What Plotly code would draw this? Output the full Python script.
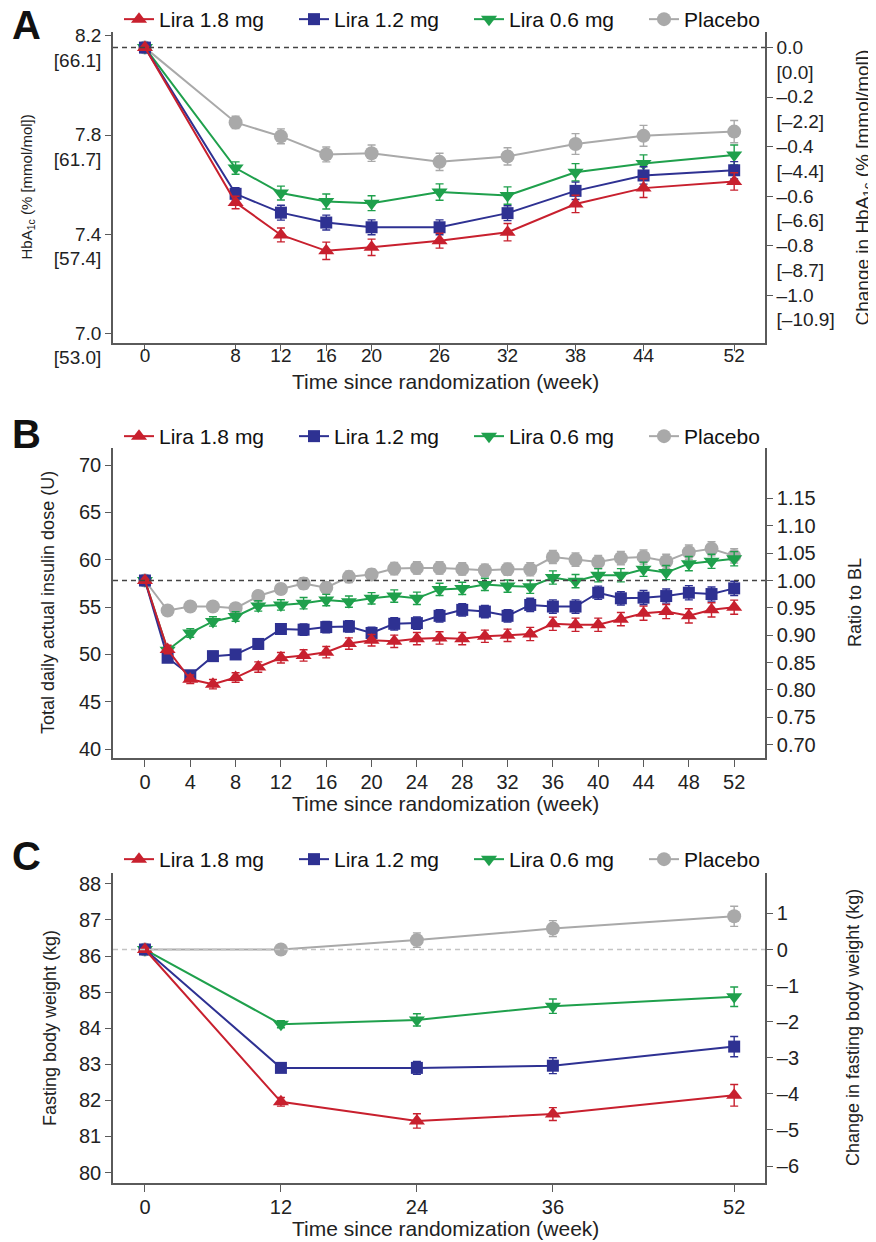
import plotly.graph_objects as go

# ---------------- Panel A: HbA1c ----------------
weeks_a = [0, 8, 12, 16, 20, 26, 32, 38, 44, 52]
hba1c_baseline = 8.153
hba1c_lira18 = [8.153, 7.528, 7.397, 7.333, 7.347, 7.374, 7.408, 7.522, 7.586, 7.613]
hba1c_lira12 = [8.153, 7.563, 7.487, 7.447, 7.428, 7.428, 7.485, 7.575, 7.637, 7.658]
hba1c_lira06 = [8.153, 7.667, 7.566, 7.532, 7.525, 7.570, 7.556, 7.650, 7.685, 7.720]
hba1c_placebo = [8.153, 7.851, 7.795, 7.722, 7.727, 7.692, 7.714, 7.764, 7.797, 7.814]
hba1c_err18 = [0, 0.025, 0.028, 0.035, 0.033, 0.030, 0.035, 0.035, 0.038, 0.035]
hba1c_err12 = [0, 0.025, 0.030, 0.030, 0.030, 0.030, 0.030, 0.035, 0.035, 0.035]
hba1c_err06 = [0, 0.025, 0.028, 0.030, 0.030, 0.033, 0.035, 0.035, 0.035, 0.040]
hba1c_errpl = [0, 0.025, 0.030, 0.030, 0.033, 0.035, 0.035, 0.042, 0.042, 0.045]
a_left_ticks = [8.2, 7.8, 7.4, 7.0]
a_left_text = ["8.2<br>[66.1]", "7.8<br>[61.7]", "7.4<br>[57.4]", "7.0<br>[53.0]"]
a_right_ticks = [0.0, -0.2, -0.4, -0.6, -0.8, -1.0]
a_right_text = ["0.0<br>[0.0]", "–0.2<br>[–2.2]", "–0.4<br>[–4.4]",
                "–0.6<br>[–6.6]", "–0.8<br>[–8.7]", "–1.0<br>[–10.9]"]

# ---------------- Panel B: insulin dose ----------------
weeks_b = list(range(0, 54, 2))
ins_baseline = 57.8
ins_lira18 = [57.8, 50.51, 47.37, 46.85, 47.55, 48.66, 49.64, 49.88, 50.23, 51.14, 51.49,
              51.38, 51.66, 51.73, 51.66, 51.91, 52.01, 52.15, 53.23, 53.13, 53.13, 53.72,
              54.35, 54.52, 54.07, 54.70, 54.98]
ins_lira12 = [57.8, 49.64, 47.79, 49.81, 49.99, 51.10, 52.68, 52.61, 52.88, 52.95, 52.26,
              53.23, 53.30, 54.07, 54.70, 54.52, 54.07, 55.22, 55.05, 55.05, 56.51, 55.92,
              55.99, 56.16, 56.51, 56.37, 56.97]
ins_lira06 = [57.8, 50.44, 52.26, 53.48, 54.00, 55.12, 55.22, 55.40, 55.74, 55.57, 55.92,
              56.16, 55.92, 56.86, 56.97, 57.39, 57.21, 57.14, 58.12, 57.73, 58.36, 58.36,
              58.99, 58.64, 59.58, 59.83, 60.10]
ins_placebo = [57.8, 54.63, 55.05, 55.05, 54.87, 56.16, 56.90, 57.49, 57.04, 58.19, 58.43,
               59.06, 59.13, 59.13, 59.02, 58.88, 58.99, 58.99, 60.28, 60.00, 59.76, 60.17,
               60.28, 59.83, 60.80, 61.15, 60.40]
ins_err = [0, 0.45, 0.45, 0.5, 0.5, 0.55, 0.55, 0.6, 0.6, 0.6, 0.6, 0.65, 0.65, 0.65, 0.65,
           0.65, 0.65, 0.7, 0.7, 0.7, 0.7, 0.7, 0.75, 0.75, 0.75, 0.75, 0.75]
b_left_ticks = [40, 45, 50, 55, 60, 65, 70]
b_right_ticks = [0.70, 0.75, 0.80, 0.85, 0.90, 0.95, 1.00, 1.05, 1.10, 1.15]

# ---------------- Panel C: body weight ----------------
weeks_c = [0, 12, 24, 36, 52]
wt_baseline = 86.18
wt_lira18 = [86.18, 81.96, 81.43, 81.62, 82.14]
wt_lira12 = [86.18, 82.90, 82.90, 82.96, 83.49]
wt_lira06 = [86.18, 84.11, 84.23, 84.61, 84.87]
wt_placebo = [86.18, 86.18, 86.44, 86.76, 87.10]
wt_err18 = [0, 0.12, 0.2, 0.18, 0.3]
wt_err12 = [0, 0.12, 0.18, 0.22, 0.28]
wt_err06 = [0, 0.1, 0.17, 0.2, 0.27]
wt_errpl = [0, 0.1, 0.2, 0.22, 0.28]
c_left_ticks = [80, 81, 82, 83, 84, 85, 86, 87, 88]
c_right_ticks = [-6, -5, -4, -3, -2, -1, 0, 1]

series_names = ["Lira 1.8 mg", "Lira 1.2 mg", "Lira 0.6 mg", "Placebo"]
colors = ["#C8202E", "#2E3192", "#1FA04C", "#A9A9A9"]
symbols = ["triangle-up", "square", "triangle-down", "circle"]
msizes = [14, 12, 14, 14]

FONT = "Liberation Sans, Arial, Helvetica, sans-serif"
AXC = "#5a5a5a"

# the page body has an 8px margin: lay the figure out in page pixels
OX, OY = 8, 8
W, H = 868, 1234


def fx(px):
    return (px - OX) / W


def fy(py):
    return 1 - (py - OY) / H


fig = go.Figure()


def add_panel(weeks, ys, errs, xa, ya, legend):
    # placebo drawn first, Lira 1.8 mg last (on top)
    for i in [3, 2, 1, 0]:
        fig.add_trace(go.Scatter(
            x=weeks, y=ys[i], name=series_names[i], mode="lines+markers",
            line=dict(color=colors[i], width=2),
            marker=dict(symbol=symbols[i], size=msizes[i], color=colors[i]),
            error_y=dict(type="data", array=errs[i], color=colors[i], thickness=1.4, width=4),
            xaxis=xa, yaxis=ya, legend=legend, showlegend=True))


XR = [-2.82, 54.72]


def add_ref(val, xa, ya, color):
    fig.add_trace(go.Scatter(
        x=XR, y=[val, val], mode="lines", showlegend=False, hoverinfo="skip",
        line=dict(color=color, width=1.5, dash="5px,4px"), xaxis=xa, yaxis=ya))


# Panel A
add_ref(0.0, "x", "y2", "#444444")
add_panel(weeks_a, [hba1c_lira18, hba1c_lira12, hba1c_lira06, hba1c_placebo],
          [hba1c_err18, hba1c_err12, hba1c_err06, hba1c_errpl], "x", "y", "legend")
# Panel B
add_ref(1.0, "x2", "y4", "#444444")
add_panel(weeks_b, [ins_lira18, ins_lira12, ins_lira06, ins_placebo],
          [ins_err, ins_err, ins_err, ins_err], "x2", "y3", "legend2")
# Panel C
add_ref(0.0, "x3", "y6", "#C4C4C4")
add_panel(weeks_c, [wt_lira18, wt_lira12, wt_lira06, wt_placebo],
          [wt_err18, wt_err12, wt_err06, wt_errpl], "x3", "y5", "legend3")

XDOM = [fx(113), fx(765)]
tickfont = dict(family=FONT, size=20, color="#222")
tickfont_a = dict(family=FONT, size=19, color="#222")
titlefont = dict(family=FONT, size=21, color="#222")


def xaxis(anchor, tickvals, standoff=-2, ticklen=7, font=tickfont):
    return dict(domain=XDOM, range=XR, anchor=anchor, tickvals=tickvals, automargin=False,
                ticks="outside", ticklen=ticklen, tickwidth=1.4, tickcolor=AXC,
                showline=True, linecolor=AXC, linewidth=1.6, showgrid=False,
                zeroline=False, tickfont=font, ticklabelstandoff=standoff)


def yaxis(dom, rng, tickvals, ticktext, side="left", overlay=None, anchor=None, shift=0,
          font=tickfont):
    d = dict(range=rng, tickvals=tickvals, ticktext=ticktext, side=side, automargin=False,
             ticks="outside", ticklen=6, tickwidth=1.4, tickcolor=AXC,
             showline=True, linecolor=AXC, linewidth=1.6, showgrid=False,
             zeroline=False, tickfont=font, ticklabelshift=shift, anchor=anchor)
    if overlay:
        d["overlaying"] = overlay
    else:
        d["domain"] = dom
    return d


A_DOM = [fy(343), fy(32)]
B_DOM = [fy(758), fy(448)]
C_DOM = [fy(1183), fy(873)]
A_R = [6.961, 8.216]
B_R = [39.05, 71.8]
C_R = [79.71, 88.3]

legend_common = dict(orientation="h", xanchor="left", yanchor="top", traceorder="reversed",
                     font=dict(family=FONT, size=21, color="#111"),
                     bgcolor="rgba(0,0,0,0)", itemwidth=30, entrywidth=130)

fig.update_layout(
    width=W, height=H, margin=dict(l=0, r=0, t=0, b=0, autoexpand=False),
    paper_bgcolor="white", plot_bgcolor="white",
    font=dict(family=FONT, color="#222"),
    xaxis=xaxis("y", weeks_a, standoff=-12, ticklen=6, font=tickfont_a),
    xaxis2=xaxis("y3", [w for w in weeks_b if w % 4 == 0]),
    xaxis3=xaxis("y5", weeks_c),
    yaxis=yaxis(A_DOM, A_R, a_left_ticks, a_left_text, anchor="x", shift=12, font=tickfont_a),
    yaxis2=yaxis(None, [A_R[0] - hba1c_baseline, A_R[1] - hba1c_baseline], a_right_ticks,
                 a_right_text, side="right", overlay="y", anchor="x", shift=12, font=tickfont_a),
    yaxis3=yaxis(B_DOM, B_R, b_left_ticks, [str(v) for v in b_left_ticks], anchor="x2"),
    yaxis4=yaxis(None, [B_R[0] / ins_baseline, B_R[1] / ins_baseline], b_right_ticks,
                 ["%.2f" % v for v in b_right_ticks], side="right", overlay="y3", anchor="x2"),
    yaxis5=yaxis(C_DOM, C_R, c_left_ticks, [str(v) for v in c_left_ticks], anchor="x3"),
    yaxis6=yaxis(None, [C_R[0] - wt_baseline, C_R[1] - wt_baseline], c_right_ticks,
                 [("–%d" % -v) if v < 0 else str(v) for v in c_right_ticks],
                 side="right", overlay="y5", anchor="x3"),
    legend=dict(x=fx(119), y=fy(-1), **legend_common),
    legend2=dict(x=fx(119), y=fy(416), **legend_common),
    legend3=dict(x=fx(119), y=fy(839), **legend_common),
)

# panel letters
for txt, ypx in [("A", 25), ("B", 434), ("C", 856)]:
    fig.add_annotation(text="<b>%s</b>" % txt, x=fx(10), y=fy(ypx), xref="paper",
                       yref="paper", xanchor="left", yanchor="middle", showarrow=False,
                       font=dict(family=FONT, size=40, color="#111"))

# x-axis titles
for ypx in [381, 803, 1228]:
    fig.add_annotation(text="Time since randomization (week)", x=fx(445), y=fy(ypx),
                       xref="paper", yref="paper", xanchor="center", yanchor="middle",
                       showarrow=False, font=titlefont)

# y-axis titles
ytitles = [
    ("HbA<sub>1c</sub> (% [mmol/mol])", 27, A_DOM, 15),
    ("Change in HbA<sub>1c</sub> (% [mmol/mol])", 863, A_DOM, 19),
    ("Total daily actual insulin dose (U)", 48, B_DOM, 18),
    ("Ratio to BL", 855, B_DOM, 18),
    ("Fasting body weight (kg)", 50, C_DOM, 18),
    ("Change in fasting body weight (kg)", 853, C_DOM, 18),
]
for txt, xpx, dom, fs in ytitles:
    fig.add_annotation(text=txt, x=fx(xpx), y=(dom[0] + dom[1]) / 2, xref="paper",
                       yref="paper", xanchor="center", yanchor="middle", textangle=-90,
                       showarrow=False, font=dict(family=FONT, size=fs, color="#222"))

fig.write_html("out.html")
